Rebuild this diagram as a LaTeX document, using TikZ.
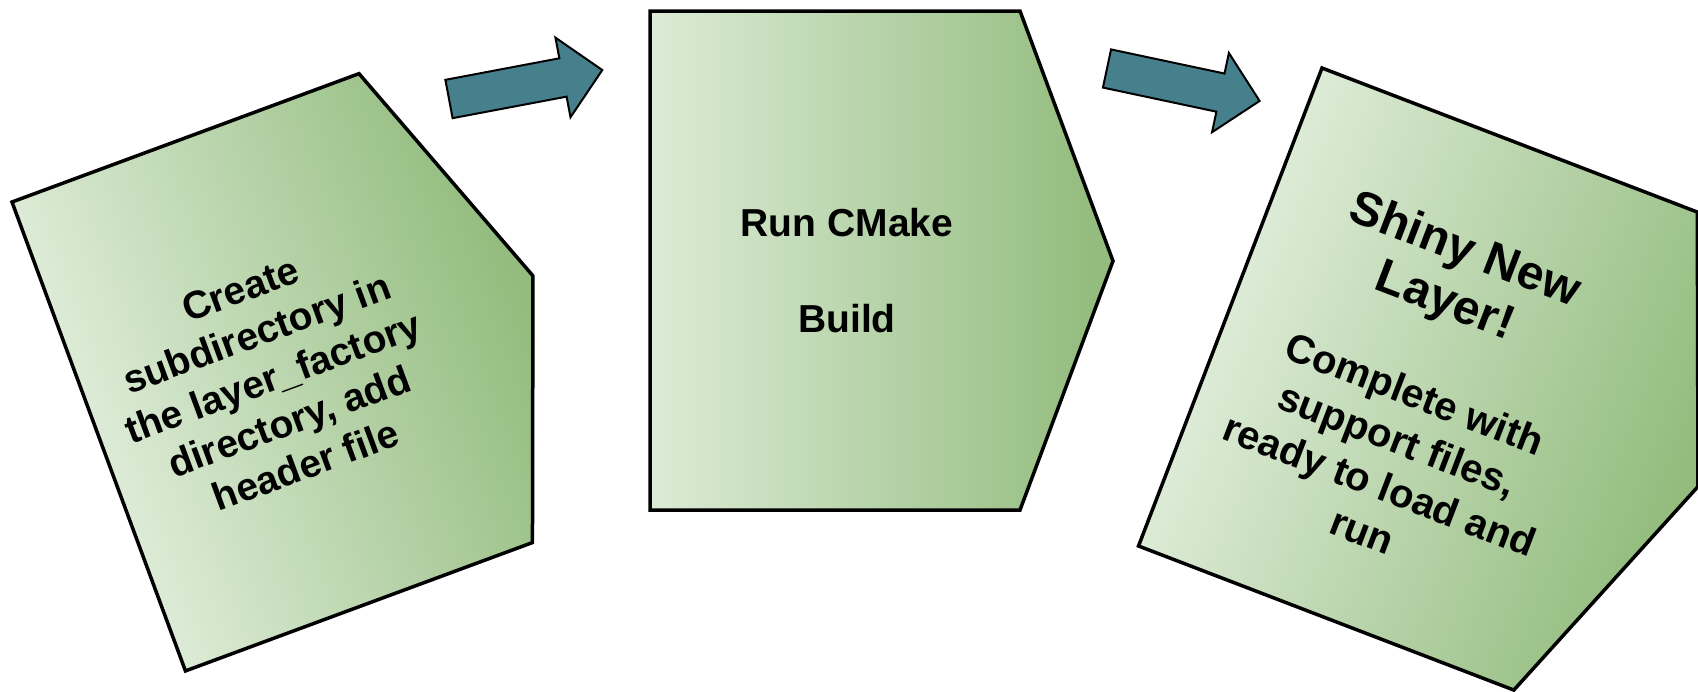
\documentclass[tikz,border=0pt]{standalone}
\usepackage{fontspec}
\setmainfont{Liberation Sans}
\definecolor{stepLight}{RGB}{220,235,214}
\definecolor{stepDark}{RGB}{147,188,126}
\definecolor{arrowTeal}{RGB}{71,128,141}
\pgfdeclarehorizontalshading{stepfade}{100bp}{color(0bp)=(stepLight); color(25bp)=(stepLight); color(73bp)=(stepDark); color(100bp)=(stepDark)}
\tikzset{
  stepshape/.style={draw=black, line width=3.5pt, shade, shading=stepfade},
  flowarrow/.style={draw=black, line width=2pt, fill=arrowTeal},
  steptext/.style={font=\bfseries\fontsize{39}{47}\selectfont, align=center, inner sep=0pt},
  bodytext/.style={font=\bfseries\fontsize{40}{49}\selectfont, align=center, inner sep=0pt},
  titletext/.style={font=\bfseries\fontsize{48}{55}\selectfont, align=center, inner sep=0pt},
}
\begin{document}
\begin{tikzpicture}[x=1pt,y=-1pt]
\fill[white] (0,0) rectangle (1698,691);
\useasboundingbox (0,0) rectangle (1698,691);

% first step: tilted pentagon
\begin{scope}[transform canvas={shift={(12,202)},rotate=20.3}]
  \path[stepshape] (0,0) -- (370,0) -- (463,250) -- (370,500) -- (0,500) -- cycle;
  \node[steptext] (create) at (184,255) {Create\\subdirectory in\\the layer\_factory\\directory, add\\header file};
\end{scope}

% second step: upright pentagon
\path[stepshape] (650,11) -- (1020,11) -- (1113,261) -- (1020,510) -- (650,510) -- cycle;
\node[steptext, font=\bfseries\fontsize{39}{48}\selectfont] (cmake) at (847,271) {Run CMake\\[48pt]Build};

% third step: pentagon tilted the other way
\begin{scope}[transform canvas={shift={(1322,68)},rotate=-21}]
  \path[stepshape] (0,0) -- (402,0) -- (501,256) -- (402,512) -- (0,512) -- cycle;
  \node[titletext] (shiny) at (198.5,148) {Shiny New\\Layer!};
  \node[bodytext] (complete) at (203.5,344) {Complete with\\support files,\\ready to load and\\run};
\end{scope}

% block arrows between the steps
\begin{scope}[shift={(449,99)},rotate=10.7]
  \path[flowarrow] (0,-19.5) -- (116,-19.5) -- (116,-40.5) -- (156,0) -- (116,40.5) -- (116,19.5) -- (0,19.5) -- cycle;
\end{scope}
\begin{scope}[shift={(1107,68.5)},rotate=-12]
  \path[flowarrow] (0,-19.5) -- (116,-19.5) -- (116,-40.5) -- (156,0) -- (116,40.5) -- (116,19.5) -- (0,19.5) -- cycle;
\end{scope}
\end{tikzpicture}
\end{document}
